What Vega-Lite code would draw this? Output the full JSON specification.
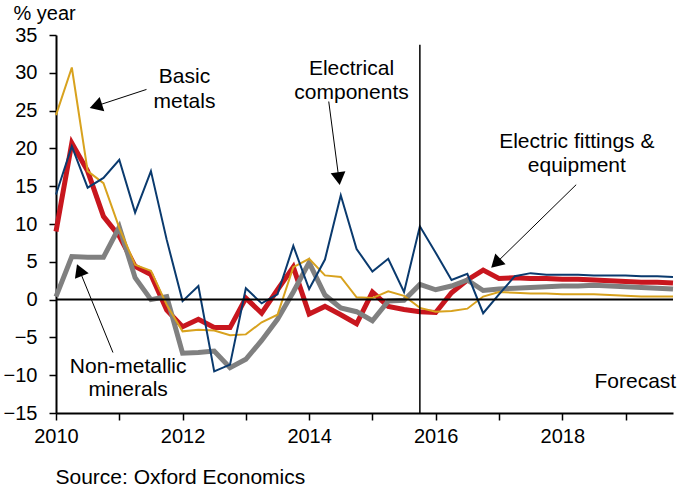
{
  "$schema": "https://vega.github.io/schema/vega-lite/v6.json",
  "width": 617,
  "height": 378,
  "autosize": "none",
  "padding": {"left": 56, "top": 35, "right": 5, "bottom": 77},
  "background": "white",
  "config": {"view": {"stroke": null}, "font": "Liberation Sans"},
  "datasets": {
    "lines": [
      {"t":2010.0,"s":"comp","v":13.9},{"t":2010.25,"s":"comp","v":20.3},{"t":2010.5,"s":"comp","v":14.8},{"t":2010.75,"s":"comp","v":16.1},
      {"t":2011.0,"s":"comp","v":18.5},{"t":2011.25,"s":"comp","v":11.5},{"t":2011.5,"s":"comp","v":17.0},{"t":2011.75,"s":"comp","v":7.9},
      {"t":2012.0,"s":"comp","v":-0.2},{"t":2012.25,"s":"comp","v":1.8},{"t":2012.5,"s":"comp","v":-9.5},{"t":2012.75,"s":"comp","v":-8.6},
      {"t":2013.0,"s":"comp","v":1.5},{"t":2013.25,"s":"comp","v":-0.5},{"t":2013.5,"s":"comp","v":0.7},{"t":2013.75,"s":"comp","v":7.1},
      {"t":2014.0,"s":"comp","v":1.4},{"t":2014.25,"s":"comp","v":5.3},{"t":2014.5,"s":"comp","v":13.8},{"t":2014.75,"s":"comp","v":6.7},
      {"t":2015.0,"s":"comp","v":3.7},{"t":2015.25,"s":"comp","v":5.4},{"t":2015.5,"s":"comp","v":1.0},{"t":2015.75,"s":"comp","v":9.7},
      {"t":2016.0,"s":"comp","v":6.2},{"t":2016.25,"s":"comp","v":2.6},{"t":2016.5,"s":"comp","v":3.4},{"t":2016.75,"s":"comp","v":-1.8},
      {"t":2017.0,"s":"comp","v":0.7},{"t":2017.25,"s":"comp","v":3.1},{"t":2017.5,"s":"comp","v":3.5},{"t":2017.75,"s":"comp","v":3.3},
      {"t":2018.0,"s":"comp","v":3.3},{"t":2018.25,"s":"comp","v":3.3},{"t":2018.5,"s":"comp","v":3.2},{"t":2018.75,"s":"comp","v":3.2},
      {"t":2019.0,"s":"comp","v":3.2},{"t":2019.25,"s":"comp","v":3.1},{"t":2019.5,"s":"comp","v":3.1},{"t":2019.75,"s":"comp","v":3.0},

      {"t":2010.0,"s":"metals","v":24.4},{"t":2010.25,"s":"metals","v":30.7},{"t":2010.5,"s":"metals","v":17.0},{"t":2010.75,"s":"metals","v":15.4},
      {"t":2011.0,"s":"metals","v":9.5},{"t":2011.25,"s":"metals","v":4.6},{"t":2011.5,"s":"metals","v":3.8},{"t":2011.75,"s":"metals","v":-0.7},
      {"t":2012.0,"s":"metals","v":-4.2},{"t":2012.25,"s":"metals","v":-4.0},{"t":2012.5,"s":"metals","v":-4.1},{"t":2012.75,"s":"metals","v":-4.7},
      {"t":2013.0,"s":"metals","v":-4.6},{"t":2013.25,"s":"metals","v":-3.0},{"t":2013.5,"s":"metals","v":-2.0},{"t":2013.75,"s":"metals","v":4.3},
      {"t":2014.0,"s":"metals","v":5.4},{"t":2014.25,"s":"metals","v":3.2},{"t":2014.5,"s":"metals","v":3.0},{"t":2014.75,"s":"metals","v":0.3},
      {"t":2015.0,"s":"metals","v":0.2},{"t":2015.25,"s":"metals","v":1.1},{"t":2015.5,"s":"metals","v":0.5},{"t":2015.75,"s":"metals","v":-1.1},
      {"t":2016.0,"s":"metals","v":-1.6},{"t":2016.25,"s":"metals","v":-1.5},{"t":2016.5,"s":"metals","v":-1.2},{"t":2016.75,"s":"metals","v":0.4},
      {"t":2017.0,"s":"metals","v":1.0},{"t":2017.25,"s":"metals","v":0.9},{"t":2017.5,"s":"metals","v":0.8},{"t":2017.75,"s":"metals","v":0.8},
      {"t":2018.0,"s":"metals","v":0.7},{"t":2018.25,"s":"metals","v":0.7},{"t":2018.5,"s":"metals","v":0.7},{"t":2018.75,"s":"metals","v":0.6},
      {"t":2019.0,"s":"metals","v":0.5},{"t":2019.25,"s":"metals","v":0.4},{"t":2019.5,"s":"metals","v":0.4},{"t":2019.75,"s":"metals","v":0.4},

      {"t":2010.0,"s":"fit","v":9.0},{"t":2010.25,"s":"fit","v":20.7},{"t":2010.5,"s":"fit","v":17.0},{"t":2010.75,"s":"fit","v":11.0},
      {"t":2011.0,"s":"fit","v":8.4},{"t":2011.25,"s":"fit","v":4.4},{"t":2011.5,"s":"fit","v":3.3},{"t":2011.75,"s":"fit","v":-1.4},
      {"t":2012.0,"s":"fit","v":-3.6},{"t":2012.25,"s":"fit","v":-2.6},{"t":2012.5,"s":"fit","v":-3.7},{"t":2012.75,"s":"fit","v":-3.7},
      {"t":2013.0,"s":"fit","v":0.2},{"t":2013.25,"s":"fit","v":-1.8},{"t":2013.5,"s":"fit","v":1.3},{"t":2013.75,"s":"fit","v":4.3},
      {"t":2014.0,"s":"fit","v":-1.9},{"t":2014.25,"s":"fit","v":-0.9},{"t":2014.5,"s":"fit","v":-2.0},{"t":2014.75,"s":"fit","v":-3.2},
      {"t":2015.0,"s":"fit","v":1.0},{"t":2015.25,"s":"fit","v":-0.9},{"t":2015.5,"s":"fit","v":-1.3},{"t":2015.75,"s":"fit","v":-1.6},
      {"t":2016.0,"s":"fit","v":-1.7},{"t":2016.25,"s":"fit","v":0.9},{"t":2016.5,"s":"fit","v":2.6},{"t":2016.75,"s":"fit","v":3.9},
      {"t":2017.0,"s":"fit","v":2.8},{"t":2017.25,"s":"fit","v":2.9},{"t":2017.5,"s":"fit","v":2.8},{"t":2017.75,"s":"fit","v":2.8},
      {"t":2018.0,"s":"fit","v":2.7},{"t":2018.25,"s":"fit","v":2.7},{"t":2018.5,"s":"fit","v":2.6},{"t":2018.75,"s":"fit","v":2.5},
      {"t":2019.0,"s":"fit","v":2.4},{"t":2019.25,"s":"fit","v":2.3},{"t":2019.5,"s":"fit","v":2.3},{"t":2019.75,"s":"fit","v":2.2},

      {"t":2010.0,"s":"min","v":0.4},{"t":2010.25,"s":"min","v":5.7},{"t":2010.5,"s":"min","v":5.6},{"t":2010.75,"s":"min","v":5.6},
      {"t":2011.0,"s":"min","v":9.6},{"t":2011.25,"s":"min","v":2.9},{"t":2011.5,"s":"min","v":0.0},{"t":2011.75,"s":"min","v":0.4},
      {"t":2012.0,"s":"min","v":-7.1},{"t":2012.25,"s":"min","v":-7.0},{"t":2012.5,"s":"min","v":-6.8},{"t":2012.75,"s":"min","v":-9.0},
      {"t":2013.0,"s":"min","v":-7.9},{"t":2013.25,"s":"min","v":-5.4},{"t":2013.5,"s":"min","v":-2.6},{"t":2013.75,"s":"min","v":1.0},
      {"t":2014.0,"s":"min","v":4.9},{"t":2014.25,"s":"min","v":0.6},{"t":2014.5,"s":"min","v":-1.1},{"t":2014.75,"s":"min","v":-1.6},
      {"t":2015.0,"s":"min","v":-2.8},{"t":2015.25,"s":"min","v":-0.2},{"t":2015.5,"s":"min","v":-0.1},{"t":2015.75,"s":"min","v":2.0},
      {"t":2016.0,"s":"min","v":1.3},{"t":2016.25,"s":"min","v":1.8},{"t":2016.5,"s":"min","v":2.6},{"t":2016.75,"s":"min","v":1.2},
      {"t":2017.0,"s":"min","v":1.4},{"t":2017.25,"s":"min","v":1.5},{"t":2017.5,"s":"min","v":1.6},{"t":2017.75,"s":"min","v":1.7},
      {"t":2018.0,"s":"min","v":1.8},{"t":2018.25,"s":"min","v":1.8},{"t":2018.5,"s":"min","v":1.9},{"t":2018.75,"s":"min","v":1.8},
      {"t":2019.0,"s":"min","v":1.7},{"t":2019.25,"s":"min","v":1.6},{"t":2019.5,"s":"min","v":1.5},{"t":2019.75,"s":"min","v":1.4}
    ],
    "arrows": [
      {"t":2011.43,"v":27.8,"t2":2010.63,"v2":25.6,"ang":252},
      {"t":2014.31,"v":26.2,"t2":2014.47,"v2":16.0,"ang":172.5},
      {"t":2018.22,"v":15.2,"t2":2016.95,"v2":4.8,"ang":226},
      {"t":2010.90,"v":-7.0,"t2":2010.37,"v2":3.9,"ang":338}
    ],
    "labels": [
      {"t":2012.03,"v":29.4,"label":"Basic"},
      {"t":2012.03,"v":26.2,"label":"metals"},
      {"t":2014.67,"v":30.5,"label":"Electrical"},
      {"t":2014.67,"v":27.3,"label":"components"},
      {"t":2018.23,"v":20.9,"label":"Electric fittings &"},
      {"t":2018.23,"v":17.7,"label":"equipment"},
      {"t":2011.14,"v":-8.86,"label":"Non-metallic"},
      {"t":2011.14,"v":-12.0,"label":"minerals"}
    ]
  },
  "encoding": {
    "x": {"field": "t", "type": "quantitative",
      "scale": {"domain": [2010, 2019.75], "nice": false, "zero": false},
      "axis": {"values": [2010,2011,2012,2013,2014,2015,2016,2017,2018,2019], "format": "d",
        "labelExpr": "datum.value % 2 == 0 ? datum.label : ''",
        "grid": false, "tickSize": 7, "tickColor": "black", "tickWidth": 1.5,
        "domainColor": "black", "domainWidth": 2, "labelFontSize": 20, "labelFont": "Liberation Sans",
        "labelColor": "black", "labelPadding": 6, "labelFlush": false, "labelOverlap": false,
        "title": "Source: Oxford Economics", "titleFontSize": 21, "titleFontWeight": "normal",
        "titleFont": "Liberation Sans", "titleAnchor": "start", "titleAlign": "left",
        "titleX": -1, "titleY": 70, "titleBaseline": "alphabetic", "titleColor": "black"}},
    "y": {"field": "v", "type": "quantitative",
      "scale": {"domain": [-15, 35], "nice": false, "zero": false},
      "axis": {"values": [-15,-10,-5,0,5,10,15,20,25,30,35],
        "grid": false, "tickSize": 7, "tickColor": "black", "tickWidth": 1.5,
        "domainColor": "black", "domainWidth": 2, "labelFontSize": 20, "labelFont": "Liberation Sans",
        "labelColor": "black", "labelPadding": 12, "labelFlush": false, "labelOverlap": false,
        "title": "% year", "titleFontSize": 20, "titleFontWeight": "normal", "titleFont": "Liberation Sans",
        "titleAngle": 0, "titleAlign": "left", "titleX": -43, "titleY": -16,
        "titleBaseline": "alphabetic", "titleColor": "black"}}
  },
  "layer": [
    {
      "data": {"name": "lines"},
      "transform": [{"filter": "datum.s == 'fit'"}],
      "mark": {"type": "line", "color": "#c8161e", "strokeWidth": 5}
    },
    {
      "data": {"name": "lines"},
      "transform": [{"filter": "datum.s == 'min'"}],
      "mark": {"type": "line", "color": "#808080", "strokeWidth": 5}
    },
    {
      "data": {"name": "lines"},
      "transform": [{"filter": "datum.s == 'metals'"}],
      "mark": {"type": "line", "color": "#d8a21e", "strokeWidth": 2}
    },
    {
      "data": {"name": "lines"},
      "transform": [{"filter": "datum.s == 'comp'"}],
      "mark": {"type": "line", "color": "#0a3a6e", "strokeWidth": 2}
    },
    {
      "data": {"values": [{"t": 2010, "v": 0, "t2": 2019.75}]},
      "mark": {"type": "rule", "color": "black", "strokeWidth": 2},
      "encoding": {"x2": {"field": "t2"}}
    },
    {
      "data": {"values": [{"t": 2015.75, "v": 33.7, "v2": -15}]},
      "mark": {"type": "rule", "color": "black", "strokeWidth": 1.5},
      "encoding": {"y2": {"field": "v2"}}
    },
    {
      "data": {"name": "arrows"},
      "mark": {"type": "rule", "color": "black", "strokeWidth": 1},
      "encoding": {
        "x2": {"field": "t2"},
        "y2": {"field": "v2"}
      }
    },
    {
      "data": {"name": "arrows"},
      "mark": {"type": "point", "shape": "triangle-up", "filled": true, "color": "black", "opacity": 1, "size": 220},
      "encoding": {
        "x": {"field": "t2", "type": "quantitative"},
        "y": {"field": "v2", "type": "quantitative"},
        "angle": {"field": "ang", "type": "quantitative", "scale": null}
      }
    },
    {
      "data": {"name": "labels"},
      "mark": {"type": "text", "fontSize": 21, "font": "Liberation Sans", "color": "black", "align": "center", "baseline": "middle"},
      "encoding": {
        "text": {"field": "label"}
      }
    },
    {
      "data": {"values": [{"t": 2019.8, "v": -10.85, "label": "Forecast"}]},
      "mark": {"type": "text", "fontSize": 21, "font": "Liberation Sans", "color": "black", "align": "right", "baseline": "middle"},
      "encoding": {
        "text": {"field": "label"}
      }
    }
  ]
}
